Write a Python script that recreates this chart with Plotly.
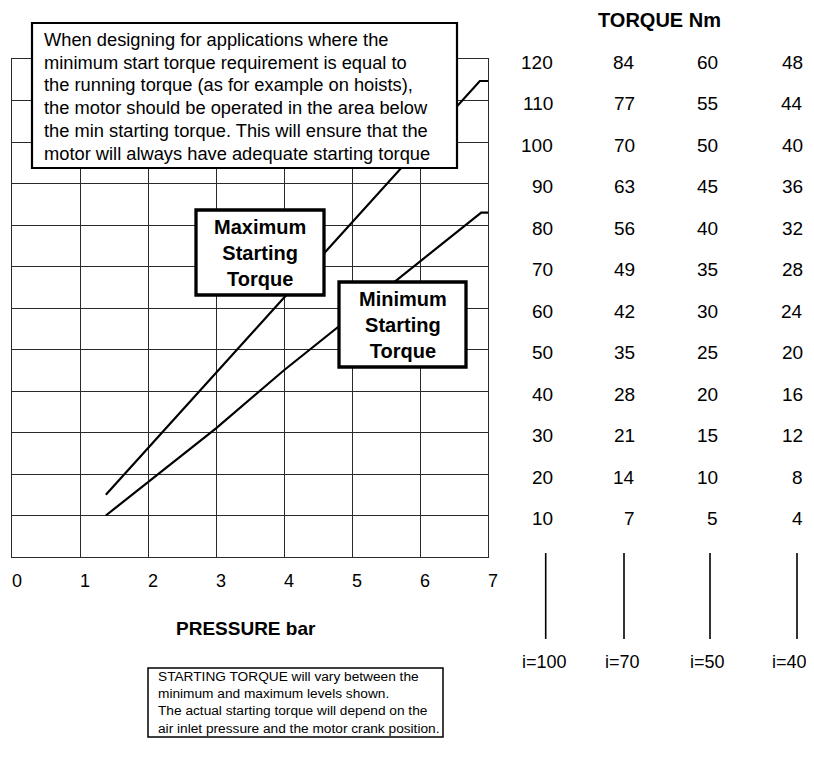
import plotly.graph_objects as go

# ---------------- data ----------------
pressure_ticks = [0, 1, 2, 3, 4, 5, 6, 7]
torque_rows = [120, 110, 100, 90, 80, 70, 60, 50, 40, 30, 20, 10]   # i=100 scale (= chart y axis)
torque_i70 = [84, 77, 70, 63, 56, 49, 42, 35, 28, 21, 14, 7]
torque_i50 = [60, 55, 50, 45, 40, 35, 30, 25, 20, 15, 10, 5]
torque_i40 = [48, 44, 40, 36, 32, 28, 24, 20, 16, 12, 8, 4]
ratio_labels = ["i=100", "i=70", "i=50", "i=40"]

max_pressure = [1.38, 6.88, 7.0]
max_torque = [15, 114.7, 114.7]
min_pressure = [1.38, 3.0, 4.0, 6.9, 7.0]
min_torque = [10, 31, 45, 83, 83]

top_note = [
    "When designing for applications where the",
    "minimum start torque requirement is equal to",
    "the running torque (as for example on hoists),",
    "the motor should be operated in the area below",
    "the min starting torque. This will ensure that the",
    "motor will always have adequate starting torque",
]
bottom_note = [
    "STARTING TORQUE will vary between the",
    "minimum and maximum levels shown.",
    "The actual starting torque will depend on the",
    "air inlet pressure and the motor crank position.",
]

# ---------------- layout helpers ----------------
OFF = 8                      # page body margin
W, H = 814 - OFF, 767 - OFF
# plot area in window pixels
L, R, T, B = 12, 488, 59, 557
FONT = "Liberation Sans, Arial, sans-serif"


def px(x):
    return (x - L) / (R - L)


def py(y):
    return (B - y) / (B - T)


fig = go.Figure()
fig.add_trace(go.Scatter(x=max_pressure, y=max_torque, mode="lines",
                         line=dict(color="black", width=2.2), showlegend=False,
                         name="Maximum Starting Torque"))
fig.add_trace(go.Scatter(x=min_pressure, y=min_torque, mode="lines",
                         line=dict(color="black", width=2.2), showlegend=False,
                         name="Minimum Starting Torque"))

shapes = []
annotations = []


def box(x0, y0, x1, y1, lw):
    shapes.append(dict(type="rect", xref="paper", yref="paper",
                       x0=px(x0), x1=px(x1), y0=py(y1), y1=py(y0),
                       fillcolor="white", line=dict(color="black", width=lw),
                       layer="above"))


def text(x, y, s, size, xanchor="center", bold=False, align="center"):
    annotations.append(dict(xref="paper", yref="paper", x=px(x), y=py(y),
                            text=("<b>%s</b>" % s) if bold else s,
                            showarrow=False, xanchor=xanchor, yanchor="middle",
                            align=align, font=dict(family=FONT, size=size, color="black")))


# boxes
box(32, 23, 457, 168, 2.2)
box(196, 210, 324, 295, 3.3)
box(339, 282, 466, 367, 3.3)
box(148, 668, 443, 737, 1.5)

for i, line in enumerate(top_note):
    text(42, 39.5 + 22.7 * i, line, 18.3, xanchor="left")

text(260, 253, "Maximum<br>Starting<br>Torque", 20, bold=True)
text(402.5, 325, "Minimum<br>Starting<br>Torque", 20, bold=True)

for i, line in enumerate(bottom_note):
    text(156, 676 + 17.4 * i, line, 13.7, xanchor="left")

text(246, 628, "PRESSURE bar", 19, bold=True)
text(659, 20, "TORQUE Nm", 20, bold=True)

# torque table (rows aligned with chart y-axis values)
col_right = [555, 637, 720, 805]
for cx, col in zip(col_right, [torque_rows, torque_i70, torque_i50, torque_i40]):
    for yv, v in zip(torque_rows, col):
        annotations.append(dict(xref="paper", yref="y", x=px(cx), y=yv, yshift=-3,
                                text=str(v), showarrow=False, xanchor="right",
                                yanchor="middle",
                                font=dict(family=FONT, size=19, color="black")))

line_x = [545.7, 624, 710, 797]
label_x = [544, 622, 707, 789]
for lx, tx, lab in zip(line_x, label_x, ratio_labels):
    shapes.append(dict(type="line", xref="paper", yref="paper",
                       x0=px(lx), x1=px(lx), y0=py(553), y1=py(639),
                       line=dict(color="black", width=1.6)))
    text(tx, 662, lab, 18)

fig.update_layout(
    width=W, height=H,
    margin=dict(l=L - OFF, r=W - (R - OFF), t=T - OFF, b=H - (B - OFF), pad=0),
    paper_bgcolor="white", plot_bgcolor="white",
    showlegend=False,
    shapes=shapes, annotations=annotations,
    font=dict(family=FONT, color="black"),
)
fig.update_xaxes(range=[0, 7], tickmode="array", tickvals=pressure_ticks,
                 ticktext=[str(v) for v in pressure_ticks],
                 showgrid=True, gridcolor="#2a2a2a", gridwidth=1,
                 showline=True, linecolor="#2a2a2a", linewidth=1.2, mirror=True,
                 zeroline=False, ticks="", ticklabelshift=5, ticklabelstandoff=7,
                 tickfont=dict(family=FONT, size=18, color="black"), fixedrange=True)
fig.update_yaxes(range=[0, 120], tickmode="linear", tick0=0, dtick=10,
                 showgrid=True, gridcolor="#2a2a2a", gridwidth=1,
                 showline=True, linecolor="#2a2a2a", linewidth=1.2, mirror=True,
                 zeroline=False, showticklabels=False, ticks="", fixedrange=True)

fig.write_html("out.html")
